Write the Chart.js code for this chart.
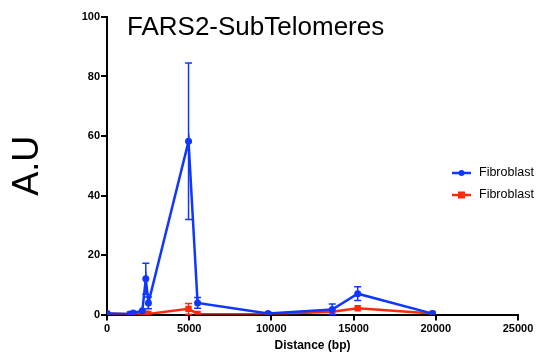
<!DOCTYPE html>
<html>
<head>
<meta charset="utf-8">
<script src="https://cdn.jsdelivr.net/npm/chart.js@4"></script>
<style>
  html, body { margin: 0; padding: 0; background: #fff; }
  #wrap { width: 536px; height: 353px; }
</style>
</head>
<body>
<div id="wrap"><canvas id="chart" width="536" height="353"></canvas></div>
<script>
const distances = [0, 1400, 1600, 2150, 2360, 2520, 4960, 5510, 9800, 13700, 15250, 19800];
const blueValues = [0.3, 0.2, 0.5, 1.3, 12.0, 3.9, 58.2, 3.9, 0.3, 1.7, 7.0, 0.3];
const blueErrors = [0.3, 0.3, 0.4, 0.5, 5.2, 2.0, 26.3, 1.8, 0.3, 1.8, 2.3, 0.3];
const redValues = [0.3, 0.1, 0.1, 0.3, 0.3, 0.2, 1.9, 0.2, 0.1, 0.9, 2.1, 0.3];
const redErrors = [0.2, 0.1, 0.1, 0.2, 0.2, 0.1, 1.8, 0.1, 0.1, 0.4, 0.4, 0.2];
const seriesLabels = ["Fibroblast", "Fibroblast"];
const yTicks = [0, 20, 40, 60, 80, 100];
const xTicks = [0, 5000, 10000, 15000, 20000, 25000];

const BLUE = "#0f37ff";
const RED = "#ff2a0c";
const FONT = "'Liberation Sans', Arial, Helvetica, sans-serif";

const toPoints = (xs, ys) => xs.map((x, i) => ({ x: x, y: ys[i] }));

// vertical error bars with caps, drawn through the chart scales
const errorBars = {
  id: "errorBars",
  afterDatasetsDraw(chart) {
    const ctx = chart.ctx;
    const xs = chart.scales.x, ys = chart.scales.y;
    chart.data.datasets.forEach((ds) => {
      const errs = ds.errors || [];
      ctx.save();
      ctx.strokeStyle = ds.borderColor;
      ctx.lineWidth = 1.5;
      ds.data.forEach((p, i) => {
        const e = errs[i];
        if (!e) return;
        const px = xs.getPixelForValue(p.x);
        const top = ys.getPixelForValue(p.y + e);
        const bot = ys.getPixelForValue(Math.max(0, p.y - e));
        if (Math.abs(bot - top) < 4) return;
        ctx.beginPath();
        ctx.moveTo(px, top); ctx.lineTo(px, bot);
        ctx.moveTo(px - 3.5, top); ctx.lineTo(px + 3.5, top);
        ctx.moveTo(px - 3.5, bot); ctx.lineTo(px + 3.5, bot);
        ctx.stroke();
      });
      ctx.restore();
    });
  },
};

// title and legend sit inside the plot region
const overlay = {
  id: "overlay",
  afterDraw(chart) {
    const ctx = chart.ctx;
    ctx.save();
    ctx.fillStyle = "#000";
    ctx.font = "26px " + FONT;
    ctx.textBaseline = "alphabetic";
    ctx.textAlign = "left";
    ctx.fillText("FARS2-SubTelomeres", 127, 35);

    const rows = [173, 195];
    chart.data.datasets.forEach((ds, i) => {
      const y = rows[i];
      ctx.strokeStyle = ds.borderColor;
      ctx.fillStyle = ds.borderColor;
      ctx.lineWidth = 2.5;
      ctx.beginPath();
      ctx.moveTo(452, y); ctx.lineTo(471, y);
      ctx.stroke();
      if (ds.pointStyle === "rect") {
        ctx.fillRect(458, y - 3.5, 7, 7);
      } else {
        ctx.beginPath();
        ctx.arc(461.5, y, 3, 0, Math.PI * 2);
        ctx.fill();
      }
      ctx.fillStyle = "#000";
      ctx.font = "12.5px " + FONT;
      ctx.textBaseline = "middle";
      ctx.fillText(ds.label, 479, y);
    });
    ctx.restore();
  },
};

const ctx = document.getElementById("chart").getContext("2d");
new Chart(ctx, {
  type: "line",
  data: {
    datasets: [
      {
        label: seriesLabels[0],
        data: toPoints(distances, blueValues),
        errors: blueErrors,
        borderColor: BLUE,
        backgroundColor: BLUE,
        borderWidth: 2.5,
        pointStyle: "circle",
        pointRadius: 3.5,
        pointBorderWidth: 0,
        order: 1,
      },
      {
        label: seriesLabels[1],
        data: toPoints(distances, redValues),
        errors: redErrors,
        borderColor: RED,
        backgroundColor: RED,
        borderWidth: 2.5,
        pointStyle: "rect",
        pointRadius: 4.5,
        pointBorderWidth: 0,
        order: 2,
      },
    ],
  },
  options: {
    responsive: false,
    animation: false,
    layout: { padding: { top: 17, right: 18, left: 0, bottom: 0 } },
    plugins: {
      legend: { display: false },
      title: { display: false },
      tooltip: { enabled: false },
    },
    scales: {
      x: {
        type: "linear",
        min: 0,
        max: 25000,
        afterBuildTicks: (s) => { s.ticks = xTicks.map((v) => ({ value: v })); },
        afterFit: (s) => { s.height = 38.5; },
        border: { color: "#000", width: 2 },
        grid: { drawOnChartArea: false, color: "#000", lineWidth: 2, tickLength: 6 },
        ticks: {
          color: "#000",
          font: { family: FONT, size: 11, weight: "bold" },
          padding: 2,
          maxRotation: 0,
          callback: (v) => String(v),
        },
        title: {
          display: true,
          text: "Distance (bp)",
          color: "#000",
          font: { family: FONT, size: 12, weight: "bold" },
          padding: { top: 0, bottom: 0 },
        },
      },
      y: {
        type: "linear",
        min: 0,
        max: 100,
        afterBuildTicks: (s) => { s.ticks = yTicks.map((v) => ({ value: v })); },
        afterFit: (s) => { s.width = 107; },
        border: { color: "#000", width: 2 },
        grid: { drawOnChartArea: false, color: "#000", lineWidth: 2, tickLength: 6 },
        ticks: {
          color: "#000",
          font: { family: FONT, size: 11, weight: "bold" },
          padding: 1,
          callback: (v) => String(v),
        },
        title: {
          display: true,
          text: "A.U",
          color: "#000",
          font: { family: FONT, size: 36 },
          padding: { top: 6, bottom: 0 },
        },
      },
    },
  },
  plugins: [errorBars, overlay],
});
</script>
</body>
</html>
